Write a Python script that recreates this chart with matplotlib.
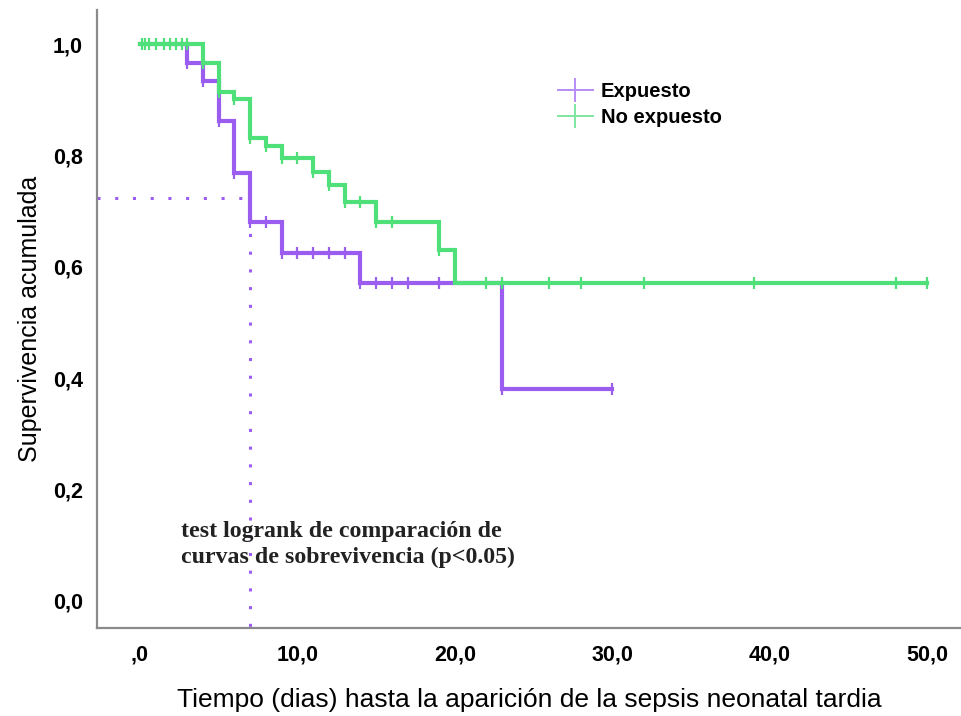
import numpy as np
import matplotlib
matplotlib.use("Agg")
import matplotlib.pyplot as plt
from matplotlib.lines import Line2D

plt.rcParams['font.family'] = ['Liberation Sans', 'DejaVu Sans']

# Kaplan-Meier steps: time of each drop and survival after it
exp_times = [0, 3, 4, 5, 6, 7, 9, 14, 23]
exp_surv = [1.0, 0.965, 0.934, 0.861, 0.769, 0.681, 0.624, 0.571, 0.381]
exp_end = 30
exp_censored = [3, 4, 5, 6, 7, 8, 9, 10, 11, 12, 13, 14, 15, 16, 17, 19, 23, 30]

noexp_times = [0, 4, 5, 6, 7, 8, 9, 11, 12, 13, 15, 19, 20]
noexp_surv = [1.0, 0.965, 0.913, 0.901, 0.831, 0.816, 0.795, 0.771, 0.746,
              0.717, 0.681, 0.630, 0.571]
noexp_end = 50
noexp_censored = [0.1, 0.3, 0.6, 1.0, 1.5, 1.9, 2.3, 2.7, 3.0, 4, 5, 6, 7, 8, 9,
                  10, 11, 12, 13, 14, 15, 16, 19, 22, 23, 26, 28, 32, 39, 48, 50]

# reference read-off for the exposed group
ref_time = 7
ref_surv = 0.724

x_ticks = [0, 10, 20, 30, 40, 50]
x_tick_labels = [",0", "10,0", "20,0", "30,0", "40,0", "50,0"]
y_ticks = [0.0, 0.2, 0.4, 0.6, 0.8, 1.0]
y_tick_labels = ["0,0", "0,2", "0,4", "0,6", "0,8", "1,0"]

purple = "#9b5cf0"
green = "#50e07a"


def surv_at(times, surv, t):
    i = np.searchsorted(times, t, side="right") - 1
    return np.asarray(surv)[i]


fig = plt.figure(figsize=(9.62, 7.16), dpi=100)
ax = fig.add_axes([0.1008, 0.1229, 0.8992, 0.8631])

for times, surv, end, cens, col in [
    (exp_times, exp_surv, exp_end, exp_censored, purple),
    (noexp_times, noexp_surv, noexp_end, noexp_censored, green),
]:
    xs = list(times) + [end]
    ys = list(surv) + [surv[-1]]
    ax.step(xs, ys, where="post", color=col, lw=3, solid_joinstyle="miter")
    ax.plot(cens, surv_at(times, surv, cens), ls="none", marker="|",
            ms=9, mew=1.6, color=col)

# dotted guide lines
ax.plot([-2.73, ref_time], [ref_surv, ref_surv], color=purple, lw=2.2,
        ls=(0, (1, 4.8)))
ax.plot([ref_time, ref_time], [ref_surv, -0.0485], color=purple, lw=2.2,
        ls=(0, (1, 4.8)))

ax.set_xlim(-2.73, 52.2)
ax.set_ylim(-0.0485, 1.061)
ax.set_xticks(x_ticks)
ax.set_xticklabels(x_tick_labels, fontweight="bold", fontsize=15.5)
ax.set_yticks(y_ticks)
ax.set_yticklabels(y_tick_labels, fontweight="bold", fontsize=15.5)
ax.tick_params(axis="x", length=0, pad=12)
ax.tick_params(axis="y", length=0, pad=10)

for s in ["top", "right"]:
    ax.spines[s].set_visible(False)
for s in ["left", "bottom"]:
    ax.spines[s].set_color("#8a8a8a")
    ax.spines[s].set_linewidth(1.6)

ax.set_xlabel("Tiempo (dias) hasta la aparición de la sepsis neonatal tardia",
              fontsize=19, labelpad=16)
ax.set_ylabel("Supervivencia acumulada", fontsize=18, labelpad=8)

ax.text(2.6, 0.101, "test logrank de comparación de\ncurvas de sobrevivencia (p<0.05)",
        family=["Liberation Serif"], fontweight="bold", fontsize=17.2,
        va="center", ha="left", color="#222222", linespacing=1.3)

handles = [
    Line2D([], [], color="#b68cf5", lw=1.4, marker="|", ms=17, mew=1.4),
    Line2D([], [], color="#7fe6a0", lw=1.4, marker="|", ms=17, mew=1.4),
]
fig.legend(handles, ["Expuesto", "No expuesto"], loc="upper left",
           bbox_to_anchor=(0.561, 0.911), frameon=False, numpoints=1,
           handlelength=1.75, handletextpad=0.4, labelspacing=0.36,
           prop={"weight": "bold", "size": 14.5})

fig.savefig("out.png", dpi=100)
